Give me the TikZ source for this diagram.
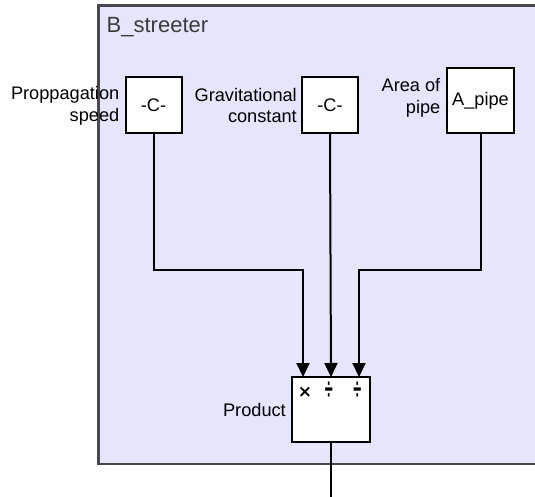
\documentclass[tikz,border=0pt]{standalone}
\usepackage{fontspec}
\setmainfont{Liberation Sans}
\newfontfamily\symfont{DejaVu Sans}
\usetikzlibrary{arrows.meta}
\definecolor{subfill}{RGB}{229,229,252}
\definecolor{subedge}{RGB}{72,72,78}
\definecolor{titletext}{RGB}{60,60,60}
\tikzset{
  blk/.style={draw=black, fill=white, line width=2pt, inner sep=0pt, align=center,
    font=\fontsize{18.2}{21.8}\selectfont},
  lbl/.style={align=right, inner sep=0pt, anchor=east,
    font=\fontsize{18.2}{21.8}\selectfont},
  wire/.style={draw=black, line width=2pt},
  arr/.style={wire, -{Triangle[length=14pt,width=13pt]}},
  sym/.style={inner sep=0pt, font=\bfseries\fontsize{20}{20}\selectfont}
}
\newcommand{\divsign}{\scalebox{0.72}[1.5]{÷}}
\begin{document}
\begin{tikzpicture}[x=1pt,y=-1pt]
\useasboundingbox (0,0) rectangle (535,497);
% subsystem area (its right side lies beyond the picture)
\fill[subfill] (98.5,5.5) rectangle (535,464);
\draw[subedge, line width=2.5pt] (535,5.5) -- (98.5,5.5) -- (98.5,464) -- (535,464);
\node[anchor=base west, inner sep=0pt, text=titletext,
  font=\fontsize{22}{22}\selectfont] (title) at (106.5,33) {B\_streeter};
% blocks
\node[blk, minimum width=56pt, minimum height=56pt] (c1) at (153.5,105) {-C-};
\node[blk, minimum width=56pt, minimum height=56pt] (c2) at (330,105) {-C-};
\node[blk, minimum width=67pt, minimum height=65pt] (c3) at (480.5,100.5) {A\_pipe};
\node[blk, minimum width=78pt, minimum height=65pt] (prod) at (331,409.5) {};
% labels
\node[lbl] (l1) at (119.5,105.5) {Proppagation\\speed};
\node[lbl] (l2) at (297,105.5) {Gravitational\\constant};
\node[lbl] (l3) at (440.5,98) {Area of\\pipe};
\node[lbl] (l4) at (286,409.5) {Product};
% product port signs
\node[sym, font=\symfont\bfseries\fontsize{17}{17}\selectfont] (s1) at (305,392) {×};
\node[sym] (s2) at (328.7,390.5) {\divsign};
\node[sym] (s3) at (357.3,390.5) {\divsign};
% ports and bends
\coordinate (in1) at (303,377);
\coordinate (in2) at (331,377);
\coordinate (in3) at (359,377);
\coordinate (bend) at (0,270);
\coordinate (out) at (331,497);
% connectors
\draw[arr] (c1.south) -- (c1.south |- bend) -| (in1);
\draw[arr] (c2.south) -- (in2);
\draw[arr] (c3.south) -- (c3.south |- bend) -| (in3);
\draw[wire] (prod.south) -- (out);
\end{tikzpicture}
\end{document}
